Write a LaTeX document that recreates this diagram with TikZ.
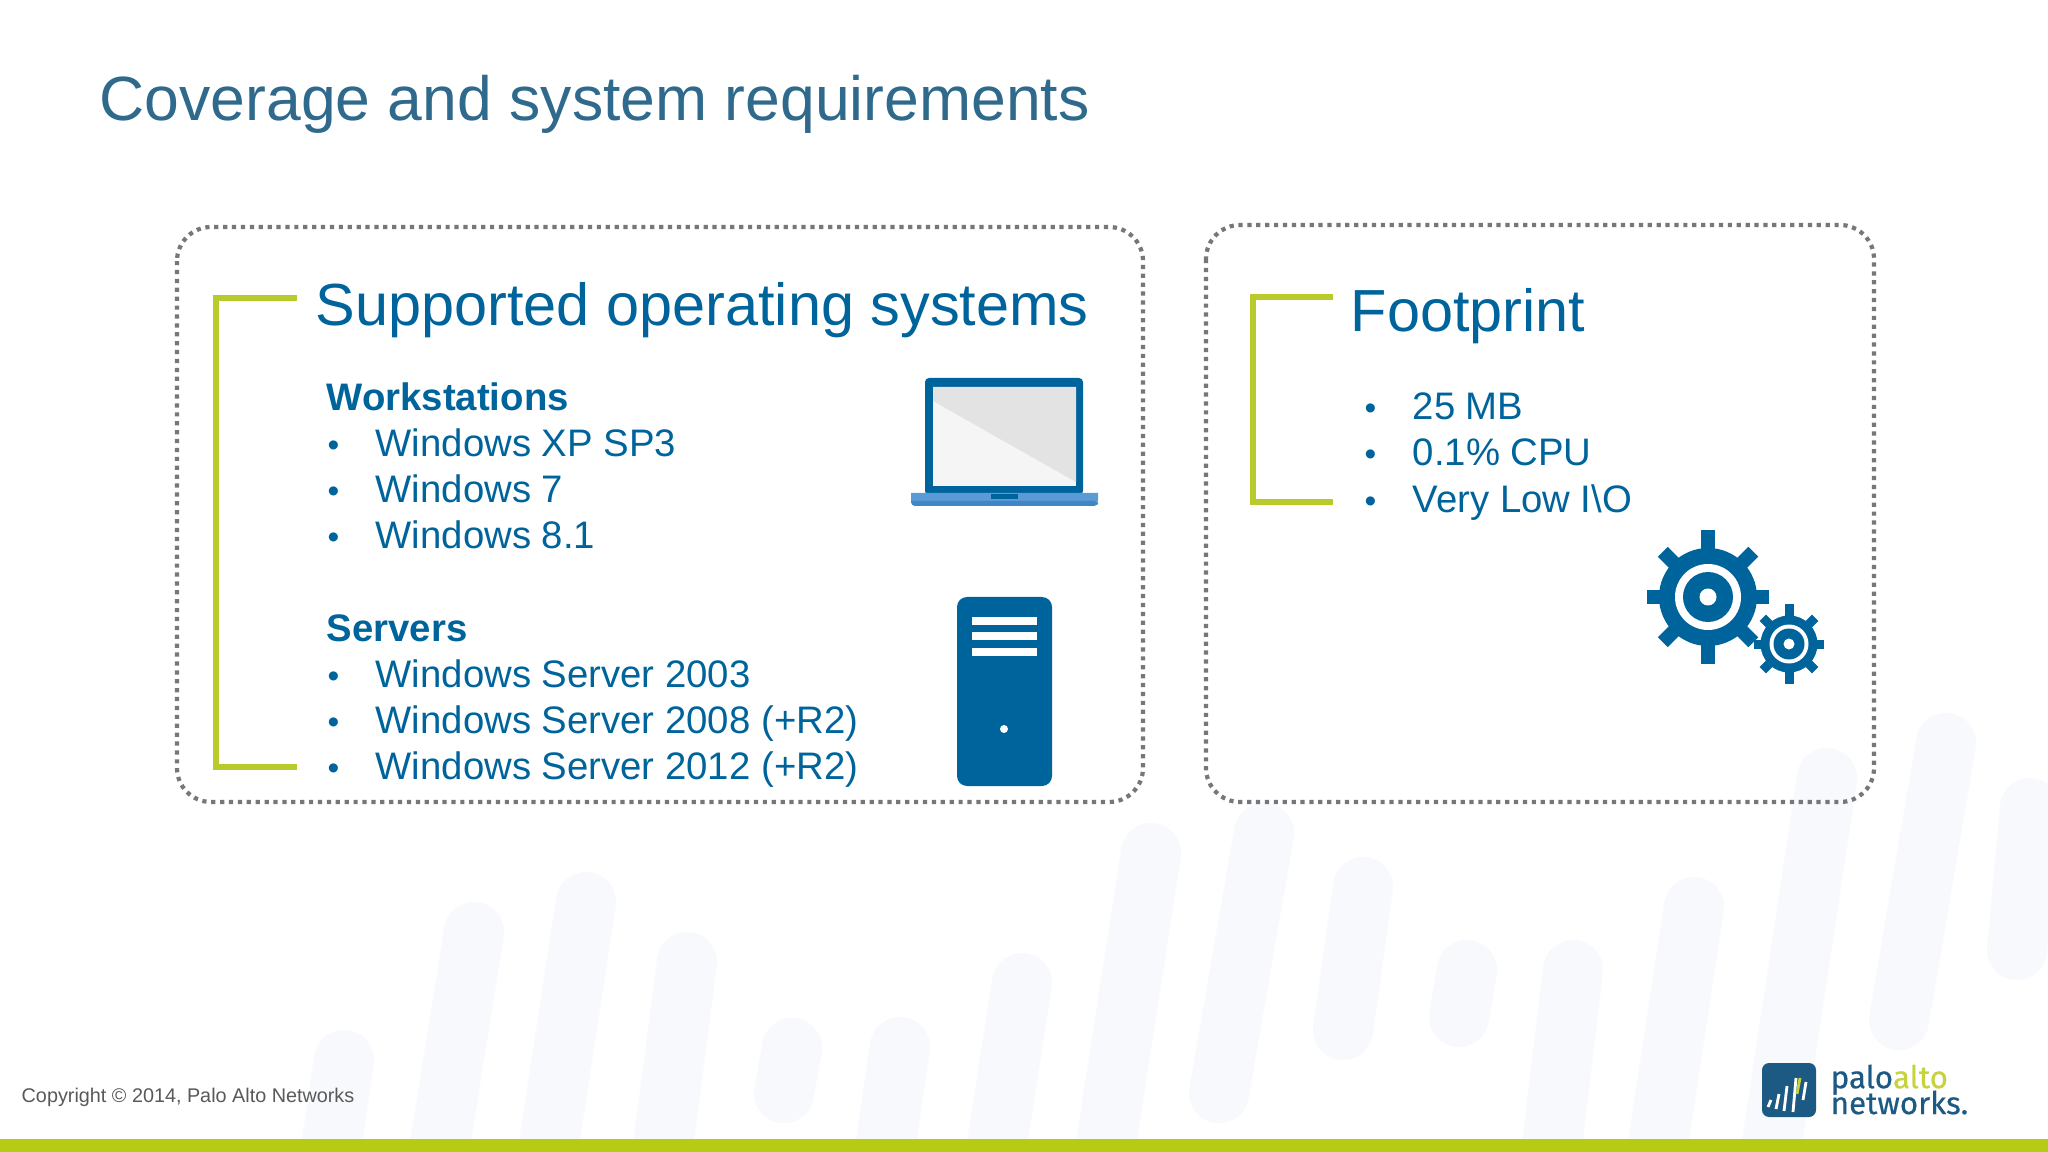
\documentclass[tikz,border=0pt]{standalone}
\usepackage{fontspec}
\setmainfont{Liberation Sans}
\newfontfamily\logofont[FakeBold=0.5]{Fira Sans}
\usetikzlibrary{positioning}
\usetikzlibrary{calc}
\definecolor{pantext}{HTML}{00649C}
\definecolor{pantitle}{HTML}{2F6A8C}
\definecolor{pangreen}{HTML}{B9CA2C}
\definecolor{panbar}{HTML}{B6CB14}
\definecolor{panalto}{HTML}{C6D33E}
\definecolor{pangrey}{HTML}{77777B}
\definecolor{panstripe}{HTML}{F7F9FC}
\definecolor{panlogo}{HTML}{1C5A84}
\definecolor{panbase}{HTML}{5B9BD5}
\definecolor{panfoot}{HTML}{3F86C4}
\tikzset{>=stealth}
\begin{document}
\begin{tikzpicture}
	[x=0.01cm,y=-0.01cm,inner sep=0pt,
	stripe/.style={line width=0.6cm,line cap=round,color=panstripe},
	dotbox/.style={draw=pangrey,line width=1.2pt,dash pattern=on 1.2pt off 1.33pt,rounded corners=0.34cm},
	bracket/.style={draw=pangreen,line width=1.5pt},
	head/.style={anchor=base west,text=pantext,font=\fontsize{16.9}{20}\selectfont},
	sub/.style={anchor=base west,text=pantext,font=\fontsize{10.9}{13}\selectfont\bfseries},
	item/.style={anchor=base west,text=pantext,font=\fontsize{10.9}{13}\selectfont},
	dot/.style={anchor=base west,text=pantext,font=\fontsize{9.5}{13}\selectfont},
	icon/.style={fill=pantext}]
	\useasboundingbox (0,0) rectangle (2048,1152);
	\fill[fill=white] (0,0) rectangle (2048,1152);
	% background stripes
	\draw[stripe] (344,1060) -- (328,1170);
	\draw[stripe] (474,932) -- (436,1170);
	\draw[stripe] (586,902) -- (545,1170);
	\draw[stripe] (687,962) -- (660,1170);
	\draw[stripe] (792,1048) -- (784,1093);
	\draw[stripe] (900,1047) -- (882,1170);
	\draw[stripe] (1022,983) -- (993,1170);
	\draw[stripe] (1151,853) -- (1102,1170);
	\draw[stripe] (1264,833) -- (1219,1093);
	\draw[stripe] (1363,887) -- (1343,1030);
	\draw[stripe] (1467,970) -- (1459,1017);
	\draw[stripe] (1573,970) -- (1549,1170);
	\draw[stripe] (1694,907) -- (1654,1170);
	\draw[stripe] (1827,778) -- (1768,1170);
	\draw[stripe] (1946,743) -- (1899,1020);
	\draw[stripe] (2030,808) -- (2017,950);
	% title
	\node[anchor=base west,text=pantitle,font=\fontsize{17.77}{22}\selectfont] (title) at (99,121) {Coverage and system requirements};
	% boxes
	\draw[dotbox] (177,227) rectangle (1143,802);
	\draw[dotbox] (1206,225) rectangle (1874,802);
	\draw[bracket] (297,298) -- (216,298) -- (216,767) -- (297,767);
	\draw[bracket] (1333,297) -- (1253,297) -- (1253,502) -- (1333,502);
	% left box
	\node[head] (os) at (315,326) {Supported operating systems};
	\node[sub] (workst) at (326,411) {Workstations};
	\foreach \y/\t in {457/Windows XP SP3,503/Windows 7,549/Windows 8.1,687/Windows Server 2003,733/Windows Server 2008 (+R2),779/Windows Server 2012 (+R2)}
	{
		\node[dot] at (327,\y) {•};
		\node[item] at (375,\y) {\t};
	}
	\node[sub] (servers) at (326,641) {Servers};
	% right box
	\node[head] (foot) at (1350,332) {Footprint};
	\foreach \y/\t in {420/25 MB,466/0.1\% CPU,512/Very Low I\textbackslash O}
	{
		\node[dot] at (1364,\y) {•};
		\node[item] at (1412,\y) {\t};
	}
	% laptop
	\fill[icon,rounded corners=0.04cm] (925,378) rectangle (1083,495);
	\fill[fill=black!4] (933,387) rectangle (1076,486);
	\fill[fill=black!11] (933,387) -- (1076,387) -- (1076,482) -- (933,401) -- cycle;
	\fill[fill=panbase] (911,493) -- (1098,493) {[rounded corners=0.06cm] -- (1098,506) -- (911,506)} -- cycle;
	\fill[fill=panfoot] (911,501) {[rounded corners=0.04cm] -- (911,506) -- (1098,506) -- (1098,501)} -- cycle;
	\fill[fill=pantext] (991,494) rectangle (1018,499);
	% server
	\fill[icon,rounded corners=0.1cm] (957,597) rectangle (1052,786);
	\foreach \y in {617,632,648}
		\fill[fill=white] (972,\y) rectangle (1037,\y+8);
	\fill[fill=white] (1004,729) circle (4);
	% gears
	\begin{scope}[shift={(1708,597)}]
		\foreach \a/\r in {0/67,45/64,90/61,135/64,180/67,225/64,270/61,315/64}
			\fill[icon,rotate=\a] (-7,-\r) rectangle (7,-40);
		\fill[icon] (0,0) circle (49);
		\fill[fill=white] (0,0) circle (33);
		\fill[icon] (0,0) circle (25);
		\fill[fill=white] (0,0) circle (8.5);
	\end{scope}
	\begin{scope}[shift={(1789,644)}]
		\foreach \a/\r in {0/40,45/37,90/35,135/37,180/40,225/37,270/35,315/37}
			\fill[icon,rotate=\a] (-4.5,-\r) rectangle (4.5,-22);
		\fill[icon] (0,0) circle (28.5);
		\fill[fill=white] (0,0) circle (19.5);
		\fill[icon] (0,0) circle (15.5);
		\fill[fill=white] (0,0) circle (5.5);
	\end{scope}
	% footer
	\node[anchor=base west,text=black!65,font=\fontsize{5.63}{7}\selectfont] (copy) at (21,1102) {Copyright © 2014, Palo Alto Networks};
	\fill[fill=panbar] (0,1139) rectangle (2048,1152);
	% logo
	\fill[fill=panlogo,rounded corners=0.07cm] (1762,1063) rectangle (1816,1117);
	\foreach \x/\a/\b in {1768/1100/1107,1776/1094/1109,1784/1086/1111,1793/1078/1112,1803/1082/1100}
		\draw[white,line width=0.8pt] (\x,\b) -- (\x+3,\a);
	\draw[panalto,line width=0.8pt] (1797,1094) -- (1800,1078);
	\node[anchor=north west,align=left,font=\logofont\fontsize{8.9}{7.1}\selectfont,text=panlogo] (logo) at (1830,1064) {palo\textcolor{panalto}{alto}\\[-2.2pt]networks.};
\end{tikzpicture}
\end{document}
